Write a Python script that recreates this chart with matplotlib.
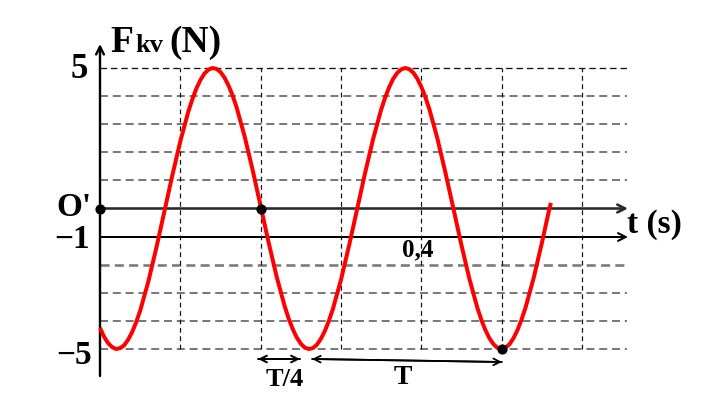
import matplotlib
matplotlib.use("Agg")
import matplotlib.pyplot as plt

# ---- data ----
t_vals = [0.000, 0.005, 0.010, 0.015, 0.020, 0.025, 0.030, 0.035, 0.040, 0.045,
          0.050, 0.060, 0.070, 0.080, 0.090, 0.100, 0.110, 0.115, 0.120, 0.125,
          0.130, 0.135, 0.140, 0.145, 0.150, 0.155, 0.160, 0.165, 0.170, 0.180,
          0.190, 0.200, 0.210, 0.220, 0.230, 0.235, 0.240, 0.245, 0.250, 0.255,
          0.260, 0.265, 0.270, 0.275, 0.280, 0.285, 0.290, 0.300, 0.310, 0.320,
          0.330, 0.340, 0.350, 0.355, 0.360, 0.365, 0.370, 0.375, 0.380, 0.385,
          0.390, 0.395, 0.400, 0.405, 0.410, 0.420, 0.430, 0.440, 0.450, 0.460,
          0.470, 0.475, 0.480, 0.485, 0.490, 0.495, 0.500, 0.505, 0.510, 0.515,
          0.520, 0.525, 0.530, 0.540, 0.550, 0.560, 0.5616]
F_vals = [-4.25, -4.56, -4.79, -4.93, -5.00, -4.97, -4.87, -4.67, -4.40, -4.05,
          -3.64, -2.62, -1.42, -0.13, 1.17, 2.39, 3.45, 3.89, 4.27, 4.57,
          4.80, 4.94, 5.00, 4.97, 4.86, 4.66, 4.38, 4.03, 3.61, 2.58,
          1.38, 0.09, -1.21, -2.43, -3.48, -3.92, -4.29, -4.59, -4.81, -4.95,
          -5.00, -4.97, -4.85, -4.64, -4.36, -4.00, -3.58, -2.55, -1.34, -0.05,
          1.25, 2.46, 3.51, 3.94, 4.31, 4.61, 4.82, 4.95, 5.00, 4.96,
          4.84, 4.63, 4.34, 3.98, 3.55, 2.51, 1.30, 0.01, -1.29, -2.50,
          -3.54, -3.97, -4.33, -4.62, -4.83, -4.96, -5.00, -4.95, -4.83, -4.61,
          -4.32, -3.95, -3.52, -2.48, -1.26, 0.04, 0.20]
h_grid_black = [5]
h_grid_gray = [4, 3, 2, 1, -3, -4, -5]
h_grid_thick = [-2]
v_grid = [0.1, 0.2, 0.3, 0.4, 0.5, 0.6]
marked_points_t = [0.0, 0.2, 0.5]
marked_points_F = [0.0, 0.0, -5.0]

# ---- pixel helpers for layout (positions only) ----
SX = 803.0   # px per second
SY = 28.1    # px per newton
X0, Y0 = 100.0, 208.5
def px(x):
    return (x - X0) / SX
def py(y):
    return (Y0 - y) / SY
def lw(p):
    return p * 0.72

fig = plt.figure(figsize=(7.05, 4.17), dpi=100)
ax = fig.add_axes([0, 0, 1, 1])
ax.set_xlim(px(0), px(705))
ax.set_ylim(py(417), py(0))
ax.axis("off")

serif = ["Liberation Serif", "DejaVu Serif"]

t_end = px(627)
# horizontal dashed grid
for v in h_grid_black:
    ax.plot([0, t_end], [v, v], color="#111111", lw=lw(1.3), dashes=(5, 3), zorder=1)
for v in h_grid_gray:
    ax.plot([0, t_end], [v, v], color="#5a5a5a", lw=lw(1.6), dashes=(5, 3), zorder=1)
for v in h_grid_thick:
    ax.plot([0, t_end], [v, v], color="#7a7a7a", lw=lw(2.6), dashes=(3.5, 2), zorder=1)
# vertical dashed grid
for v in v_grid:
    ax.plot([v, v], [-5, 5], color="#111111", lw=lw(1.2), dashes=(4, 3), zorder=1)

# axes arrows
def arrow(x1, y1, x2, y2, color="black", width=2.0, style="->", ms=14):
    ax.annotate("", xy=(px(x2), py(y2)), xytext=(px(x1), py(y1)),
                arrowprops=dict(arrowstyle=style, lw=lw(width), color=color,
                                shrinkA=0, shrinkB=0, mutation_scale=ms),
                zorder=3)

arrow(100, 376, 100, 44, width=2.4)
arrow(100, 208.5, 628, 208.5, color="#2a2a2a", width=2.6)
arrow(100, 237, 628, 237, width=2.0)
arrow(258, 359, 300, 359, width=2.0, ms=12)
arrow(300, 359, 258, 359, width=2.0, ms=12)
arrow(502, 362, 312, 359, width=1.8, ms=12)
arrow(312, 359, 502, 362, width=1.8, ms=12)

# red curve
ax.plot(t_vals, F_vals, color="#ff0000", lw=lw(4.0), solid_capstyle="butt",
        solid_joinstyle="round", zorder=4)

# dots
ax.scatter(marked_points_t, marked_points_F, s=40, color="black", zorder=5)

# texts
def txt(x, y, s, size, ha="center", va="center"):
    ax.text(px(x), py(y), s, fontsize=size, fontweight="bold", family=serif,
            ha=ha, va=va, color="black", zorder=6)

txt(110, 52, "F", 27, ha="left", va="baseline")
txt(135, 52, "kv", 19, ha="left", va="baseline")
txt(169, 52, "(N)", 27, ha="left", va="baseline")
txt(79, 69, "5", 25)
txt(74, 208, "O'", 24)
txt(72, 239, "\u22121", 24)
txt(74, 355, "\u22125", 24)
txt(654, 224, "t (s)", 24)
txt(418, 250, "0,4", 18)
txt(285, 380, "T/4", 19)
txt(403, 377, "T", 20)

fig.savefig("out.png", dpi=100)
